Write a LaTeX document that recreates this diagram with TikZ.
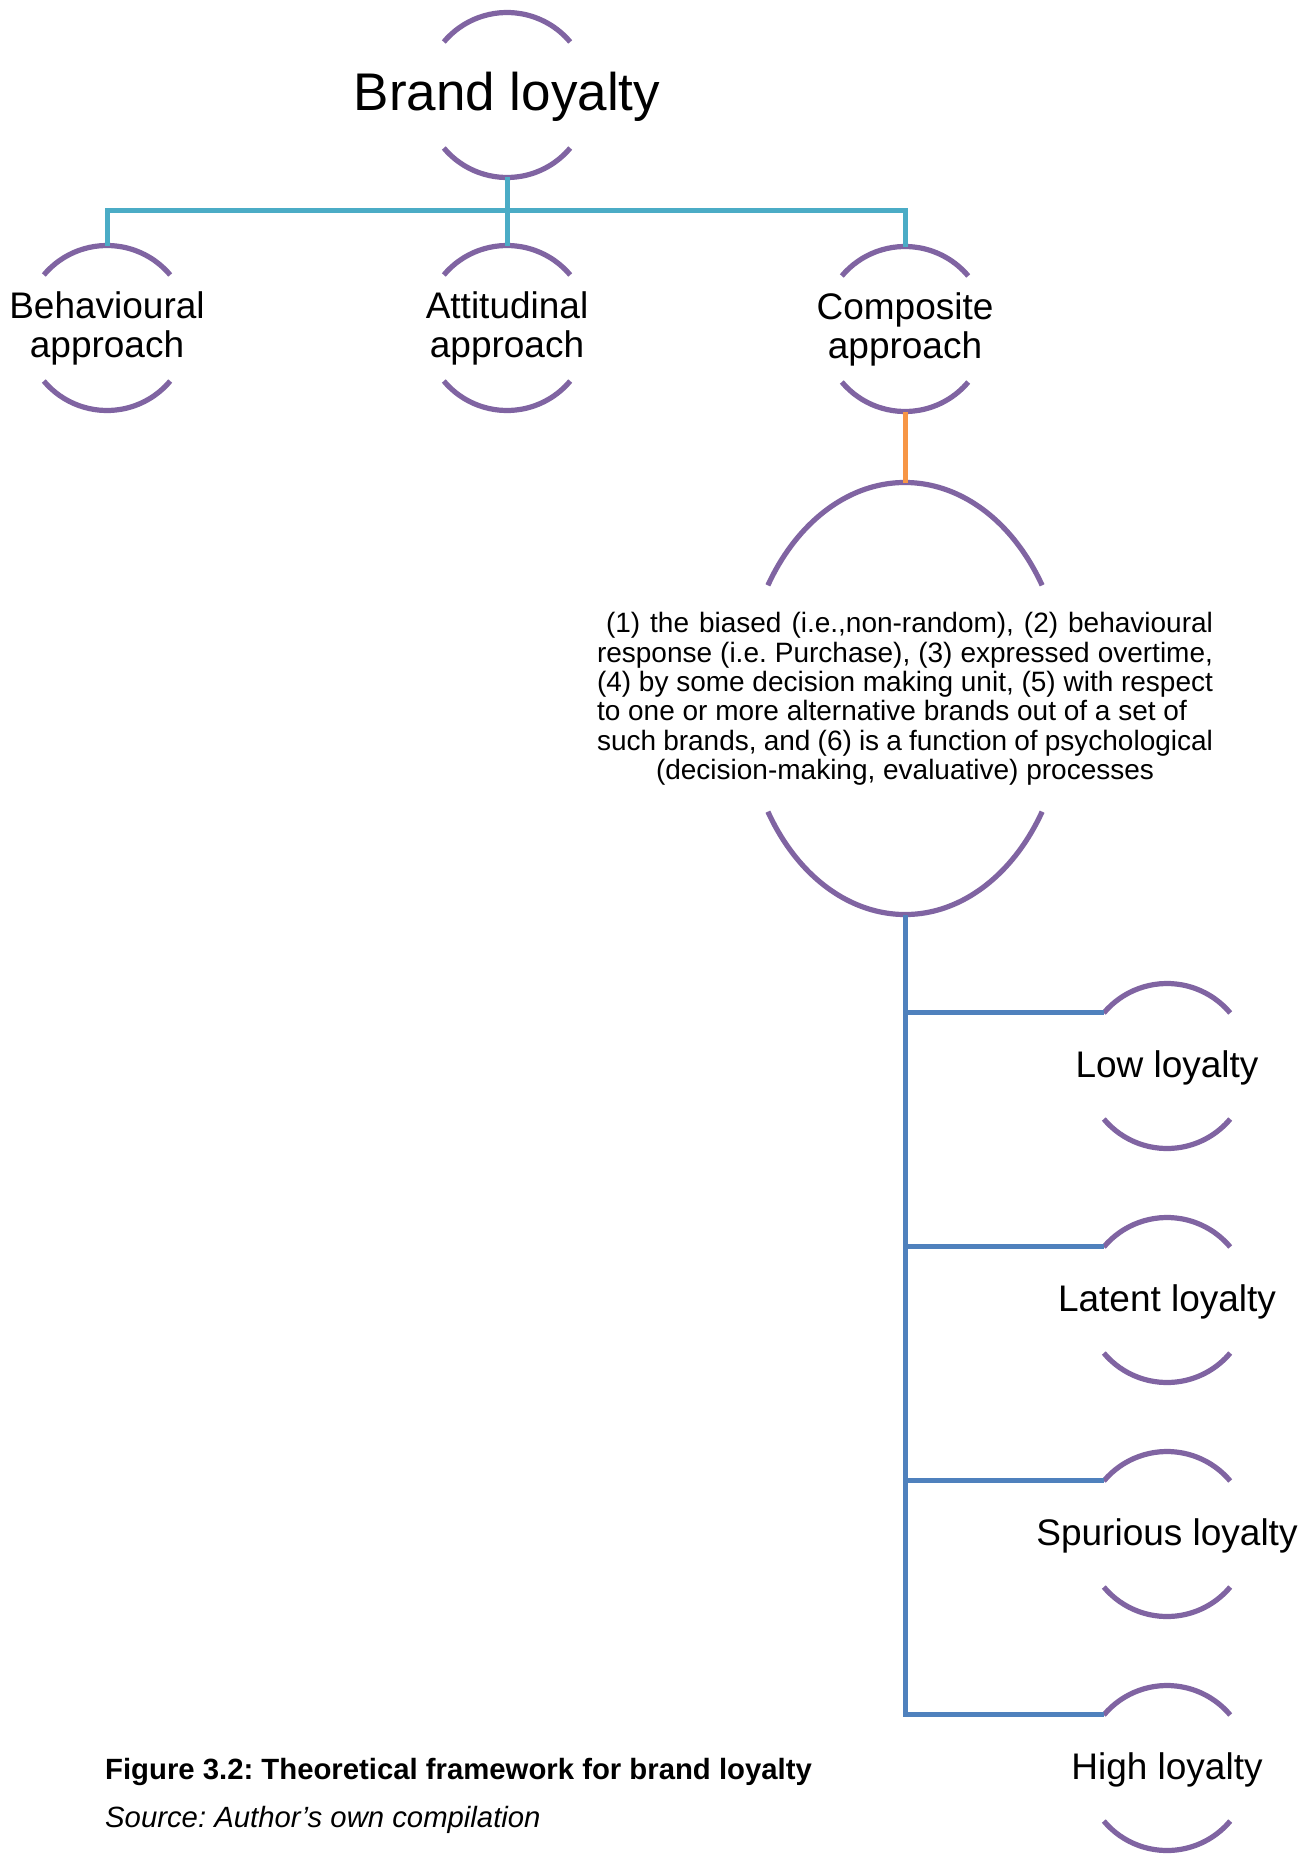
\documentclass[tikz,border=0pt]{standalone}
\usepackage{fontspec}
\setmainfont{Liberation Sans}
\usetikzlibrary{shapes.geometric}
\definecolor{arcpurple}{HTML}{8064A2}
\definecolor{linkteal}{HTML}{4BACC6}
\definecolor{linkorange}{HTML}{F79646}
\definecolor{linkblue}{HTML}{4F81BD}
\frenchspacing
% two open arcs (top and bottom) around a round placeholder node
\newcommand\ringarcs[1]{%
  \draw[rim] (#1.140) arc[start angle=140, end angle=40, radius=82.5pt];
  \draw[rim] (#1.220) arc[start angle=220, end angle=320, radius=82.5pt];}
\begin{document}
\begin{tikzpicture}[x=1pt, y=1pt,
  ring/.style={circle, minimum size=165pt, inner sep=0pt, outer sep=0pt, draw=none},
  rim/.style={draw=arcpurple, line width=5.2pt},
  lbl/.style={inner sep=0pt, align=center, font=\fontsize{37}{39}\selectfont},
  toplink/.style={draw=linkteal, line width=5pt},
  midlink/.style={draw=linkorange, line width=5pt},
  lowlink/.style={draw=linkblue, line width=5pt},
  deftext/.style={inner sep=0pt, align=center, font=\fontsize{28}{29.3}\selectfont},
  captext/.style={anchor=base west, inner sep=0pt}]

\fill[white] (0,0) rectangle (1312,-1854);
\useasboundingbox (0,0) rectangle (1312,-1854);

% root
\node[ring] (brand) at (507,-95) {};
\node[inner sep=0pt, font=\fontsize{53}{55}\selectfont] (brand-t) at ([yshift=-2pt]brand.center) {Brand loyalty};
\ringarcs{brand}

% three approaches
\node[ring] (beh) at (107,-328) {};
\node[lbl] (beh-t) at (beh) {Behavioural\\approach};
\ringarcs{beh}
\node[ring] (att) at (507,-328) {};
\node[lbl] (att-t) at (att) {Attitudinal\\approach};
\ringarcs{att}
\node[ring] (comp) at (905,-329) {};
\node[lbl] (comp-t) at (comp) {Composite\\approach};
\ringarcs{comp}

\coordinate (split) at (507,-210);
\draw[toplink] (brand.south) -- (split);
\draw[toplink] (att.north) -- (split);
\draw[toplink] (beh.north) |- (split);
\draw[toplink] (comp.north) |- (split);

% definition of the composite approach
\node[ellipse, minimum width=322pt, minimum height=432pt, inner sep=0pt, outer sep=0pt, draw=none] (defn) at (905,-698.5) {};
\draw[rim] (defn.center) ++(31.6:161pt and 216pt) arc[start angle=31.6, end angle=148.4, x radius=161pt, y radius=216pt];
\draw[rim] (defn.center) ++(211.6:161pt and 216pt) arc[start angle=211.6, end angle=328.4, x radius=161pt, y radius=216pt];
\node[deftext] (defn-t) at (905,-699) {%
\makebox[616pt][s]{\hspace*{9pt}(1) the biased (i.e.,non-random), (2) behavioural}\\
\makebox[616pt][s]{response (i.e. Purchase), (3) expressed overtime,}\\
\makebox[616pt][s]{(4) by some decision making unit, (5) with respect}\\
\makebox[616pt][l]{to one or more alternative brands out of a set of}\\
\makebox[616pt][s]{such brands, and (6) is a function of psychological}\\
(decision-making, evaluative) processes};
\draw[midlink] (comp.south) -- (defn.north);

% loyalty types
\node[ring] (low) at (1167,-1066) {};
\node[lbl] (low-t) at ([yshift=-2pt]low.center) {Low loyalty};
\ringarcs{low}
\node[ring] (latent) at (1167,-1300) {};
\node[lbl] (latent-t) at ([yshift=-2pt]latent.center) {Latent loyalty};
\ringarcs{latent}
\node[ring] (spur) at (1167,-1534) {};
\node[lbl] (spur-t) at ([yshift=-2pt]spur.center) {Spurious loyalty};
\ringarcs{spur}
\node[ring] (high) at (1167,-1768) {};
\node[lbl] (high-t) at ([yshift=-2pt]high.center) {High loyalty};
\ringarcs{high}

\draw[lowlink] (defn.south) |- (high.140);
\draw[lowlink] (low.140) -- (low.140 -| defn.south);
\draw[lowlink] (latent.140) -- (latent.140 -| defn.south);
\draw[lowlink] (spur.140) -- (spur.140 -| defn.south);

% caption
\node[captext, font=\fontsize{29.3}{30}\selectfont\bfseries] (cap) at (105,-1779) {Figure 3.2: Theoretical framework for brand loyalty};
\node[captext, font=\fontsize{29.3}{30}\selectfont\itshape] (src) at (105,-1827) {Source: Author’s own compilation};
\end{tikzpicture}
\end{document}
